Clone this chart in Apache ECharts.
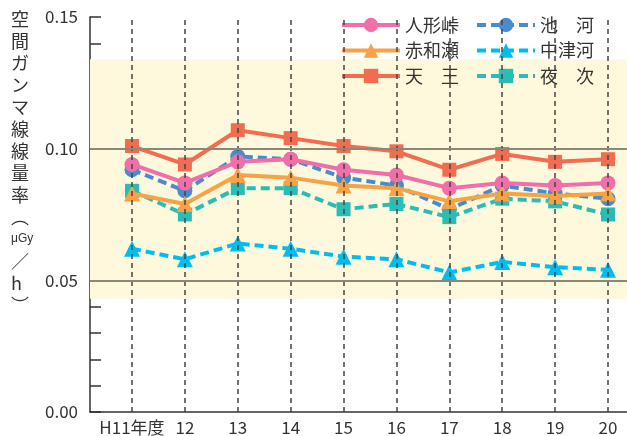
<!DOCTYPE html>
<html>
<head>
<meta charset="utf-8">
<script src="https://cdn.jsdelivr.net/npm/echarts@6/dist/echarts.min.js"></script>
<style>
html,body{margin:0;padding:0;background:#fff;}
#chart{width:627px;height:436px;}
</style>
</head>
<body>
<div id="chart"></div>
<script>
var categories = ['H11年度', '12', '13', '14', '15', '16', '17', '18', '19', '20'];
var ningyotoge = [0.094, 0.087, 0.095, 0.096, 0.092, 0.090, 0.085, 0.087, 0.086, 0.087];
var akawase    = [0.083, 0.079, 0.090, 0.089, 0.086, 0.085, 0.080, 0.083, 0.082, 0.083];
var tenno      = [0.101, 0.094, 0.107, 0.104, 0.101, 0.099, 0.092, 0.098, 0.095, 0.096];
var ikegawa    = [0.092, 0.084, 0.097, 0.096, 0.089, 0.086, 0.077, 0.086, 0.083, 0.081];
var nakatsugo  = [0.062, 0.058, 0.064, 0.062, 0.059, 0.058, 0.053, 0.057, 0.055, 0.054];
var yotsugi    = [0.084, 0.075, 0.085, 0.085, 0.077, 0.079, 0.074, 0.081, 0.080, 0.075];
var yTicks = [0, 0.05, 0.10, 0.15];
var refLines = [0.05, 0.10];
var band = [0.043, 0.134];
var yName = ['空', '間', 'ガ', 'ン', 'マ', '線', '線', '量', '率', '︵', '{s|μGy}', '／', 'h', '︶'];

var FONT = "'Noto Sans CJK JP', sans-serif";

function pairs(arr) {
    return arr.map(function (v, i) { return [i, v]; });
}

function makeSeries(name, data, color, symbol, size, dashed) {
    return {
        name: name,
        type: 'line',
        z: dashed ? 3 : 4,
        data: pairs(data),
        symbol: symbol,
        symbolSize: size,
        color: color,
        itemStyle: { color: color },
        lineStyle: { color: color, width: 4, type: dashed ? [9, 5] : 'solid' },
        emphasis: { disabled: true }
    };
}

function legendCol(names, left) {
    return {
        data: names,
        orient: 'vertical',
        left: left,
        top: 11,
        itemWidth: 58,
        itemHeight: 18,
        itemGap: 7.5,
        lineStyle: { width: 4 },
        textStyle: { fontSize: 18, color: '#333', fontFamily: FONT }
    };
}

var dom = document.getElementById('chart');
var myChart = echarts.init(dom);
var option = {
    animation: false,
    textStyle: { fontFamily: FONT },
    grid: { left: 90, right: 0, top: 17, bottom: 23 },
    legend: [
        legendCol(['人形峠', '赤和瀬', '天　王'], 335),
        legendCol(['池　河', '中津河', '夜　次'], 470)
    ],
    graphic: [{
        type: 'text',
        left: 11,
        top: 8,
        style: {
            text: yName.join('\n'),
            font: '18px ' + FONT,
            fill: '#333',
            align: 'center',
            lineHeight: 22,
            rich: { s: { fontSize: 12, lineHeight: 22, fill: '#333' } }
        }
    }],
    xAxis: {
        type: 'value',
        min: -0.794,
        max: 9.359,
        axisLine: { show: true, onZero: false, lineStyle: { color: '#333', width: 1.5 } },
        axisTick: { show: false },
        splitLine: { show: false },
        axisLabel: {
            customValues: categories.map(function (c, i) { return i; }),
            formatter: function (v) { return categories[Math.round(v)] || ''; },
            fontSize: 17,
            color: '#333',
            margin: 7,
            fontFamily: FONT
        }
    },
    yAxis: {
        type: 'value',
        min: yTicks[0],
        max: yTicks[yTicks.length - 1],
        interval: 0.05,
        axisLine: { show: true, onZero: false, lineStyle: { color: '#333', width: 1.5 } },
        axisTick: { show: true, inside: true, length: 11, lineStyle: { color: '#333', width: 1.5 } },
        minorTick: { show: true, splitNumber: 5, length: 11, lineStyle: { color: '#333', width: 1.5 } },
        splitLine: { show: false },
        axisLabel: {
            formatter: function (v) { return v.toFixed(2); },
            fontSize: 17,
            color: '#333',
            margin: 12,
            fontFamily: FONT
        }
    },
    series: [{
        name: 'bg',
        type: 'line',
        data: [],
        z: 1,
        silent: true,
        markArea: {
            silent: true,
            itemStyle: { color: '#fef9dd' },
            data: [[{ yAxis: band[1] }, { yAxis: band[0] }]]
        },
        markLine: {
            silent: true,
            symbol: ['none', 'none'],
            label: { show: false },
            animation: false,
            data: categories.map(function (c, i) {
                return { xAxis: i, lineStyle: { color: '#444', width: 1.5, type: [5, 4] } };
            }).concat(refLines.map(function (v) {
                return { yAxis: v, lineStyle: { color: '#8c8878', width: 2, type: 'solid' } };
            }))
        }
    },
        makeSeries('池　河', ikegawa, '#4a8ccb', 'circle', 15, true),
        makeSeries('中津河', nakatsugo, '#00bdf0', 'triangle', 16, true),
        makeSeries('夜　次', yotsugi, '#2bbcb5', 'rect', 14, true),
        makeSeries('人形峠', ningyotoge, '#f06eaa', 'circle', 15, false),
        makeSeries('赤和瀬', akawase, '#f8a145', 'triangle', 16, false),
        makeSeries('天　王', tenno, '#f26c50', 'rect', 14, false)
    ]
};
myChart.setOption(option, true);
window.addEventListener('resize', function () {
    myChart.resize();
});
</script>
</body>
</html>
